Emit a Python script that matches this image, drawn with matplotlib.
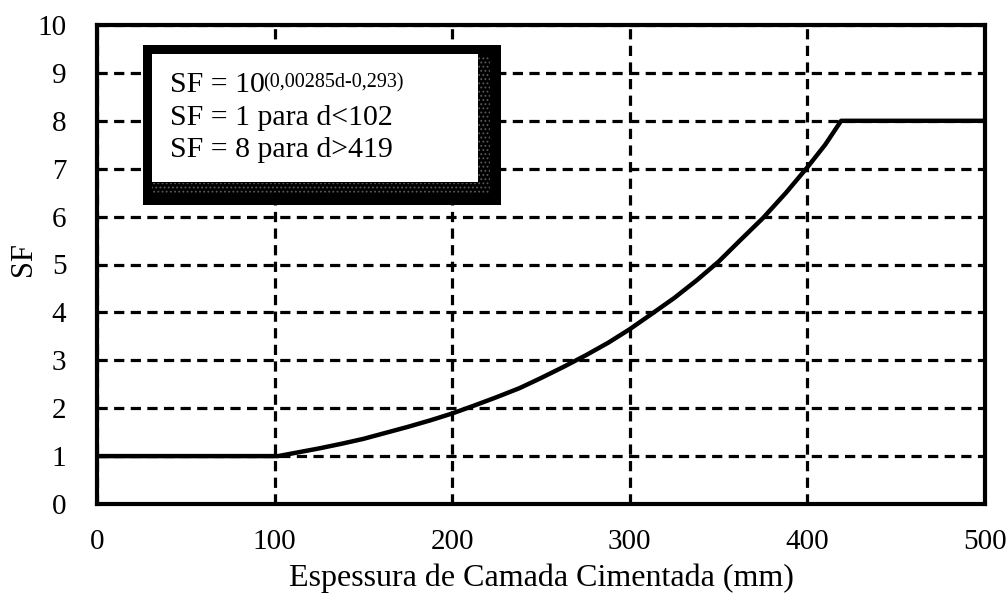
import matplotlib
matplotlib.use("Agg")
import matplotlib.pyplot as plt
from matplotlib.patches import Rectangle
from matplotlib.text import Annotation

# thickness of cemented layer (mm) and stiffness factor
thickness_mm = [0, 102, 112, 125, 138, 150, 162, 175, 188, 200, 212, 225, 238, 250, 262,
                275, 288, 300, 312, 325, 338, 350, 362, 375, 388, 400, 410, 419, 500]
sf_values = [1.0, 1.0, 1.07, 1.16, 1.26, 1.36, 1.48, 1.61, 1.75, 1.89, 2.05, 2.23, 2.42, 2.63, 2.85,
             3.1, 3.37, 3.65, 3.96, 4.3, 4.68, 5.06, 5.5, 5.97, 6.5, 7.03, 7.5, 8.0, 8.0]

x_ticks = [0, 100, 200, 300, 400, 500]
y_ticks = list(range(0, 11))

box_lines = ["SF = 10", "SF = 1 para d<102", "SF = 8 para d>419"]
box_exponent = "(0,00285d-0,293)"

plt.rcParams["font.family"] = ["Liberation Serif", "DejaVu Serif"]
plt.rcParams["hatch.linewidth"] = 0.8

W, H = 1008, 596
fig = plt.figure(figsize=(W / 100, H / 100), dpi=100)
ax = fig.add_axes([97 / W, 1 - 504 / H, 888 / W, 479 / H])

ax.plot(thickness_mm, sf_values, color="black", linewidth=3.2, solid_capstyle="butt",
        solid_joinstyle="round", zorder=4)

ax.set_xlim(0, 500)
ax.set_ylim(0, 10)
ax.set_xticks(x_ticks)
ax.set_yticks(y_ticks)
ax.tick_params(length=0, labelsize=21)
ax.tick_params(axis="x", pad=18)
ax.tick_params(axis="y", pad=22)
ax.grid(True, color="black", linestyle=(0, (3.2, 2.0)), linewidth=2.3)
ax.set_axisbelow(True)
for spine in ax.spines.values():
    spine.set_linewidth(3.0)
    spine.set_zorder(5)

ax.set_xlabel("Espessura de Camada Cimentada (mm)", fontsize=23, labelpad=6)
ax.set_ylabel("SF", fontsize=22, va="center")
ax.yaxis.set_label_coords(-0.0833, 0.511)


def px_box(x0, y0, x1, y1):
    # figure-pixel rectangle (top-left origin) -> figure fraction
    return (x0 / W, 1 - y1 / H), (x1 - x0) / W, (y1 - y0) / H


# text box with a heavy drop shadow, as in the original
xy, w, h = px_box(143, 45, 501, 205)
fig.add_artist(Rectangle(xy, w, h, transform=fig.transFigure, facecolor="black",
                         edgecolor="none", zorder=6))
for strip in [(478, 55, 490, 194), (152, 183, 490, 194)]:
    xy, w, h = px_box(*strip)
    fig.add_artist(Rectangle(xy, w, h, transform=fig.transFigure, facecolor="black",
                             edgecolor="#5a5a5a", hatch="....", linewidth=0, zorder=6.5))
xy, w, h = px_box(152, 54, 478, 182)
fig.add_artist(Rectangle(xy, w, h, transform=fig.transFigure, facecolor="white",
                         edgecolor="none", zorder=7))

baselines = [92, 125, 157]
texts = []
for line, base in zip(box_lines, baselines):
    t = fig.text(170 / W, 1 - base / H, line, fontsize=21.5, va="baseline", ha="left", zorder=8)
    texts.append(t)
sup = Annotation(box_exponent, xy=(0.98, 0.95), xycoords=texts[0], fontsize=14.5,
                 va="top", ha="left", annotation_clip=False)
sup.set_zorder(8)
fig.add_artist(sup)

fig.savefig("out.png", dpi=100)
